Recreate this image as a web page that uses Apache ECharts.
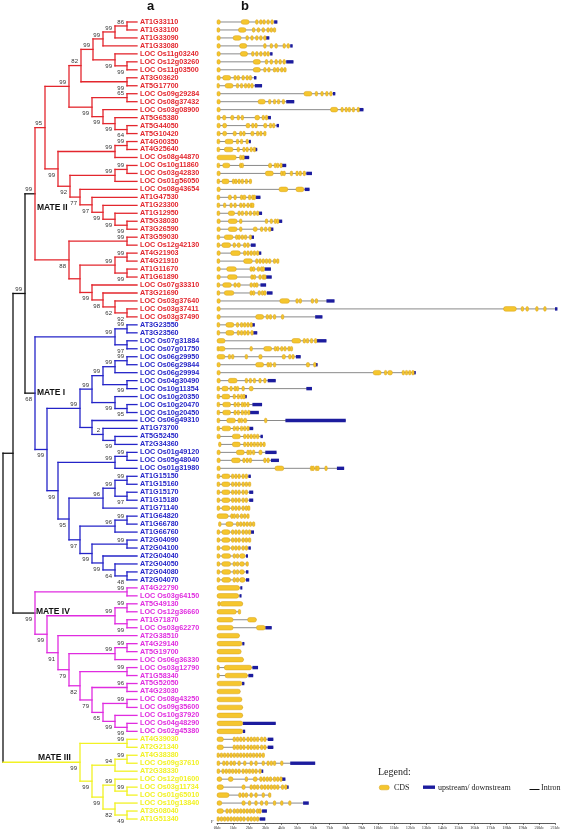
<!DOCTYPE html>
<html><head><meta charset="utf-8">
<script src="https://cdn.jsdelivr.net/npm/echarts@6/dist/echarts.min.js"></script>
<style>html,body{margin:0;padding:0;background:#fff}#c{width:567px;height:834px}</style>
</head><body><div id="c"></div>
<script>
// ---------------- DATA ----------------
const leafNames = [
'AT1G33110','AT1G33100','AT1G33090','AT1G33080','LOC Os11g03240','LOC Os12g03260','LOC Os11g03500','AT3G03620','AT5G17700','LOC Os09g29284',
'LOC Os08g37432','LOC Os03g08900','AT5G65380','AT5G44050','AT5G10420','AT4G00350','AT4G25640','LOC Os08g44870','LOC Os10g11860','LOC Os03g42830',
'LOC Os01g56050','LOC Os08g43654','AT1G47530','AT1G23300','AT1G12950','AT5G38030','AT3G26590','AT3G59030','LOC Os12g42130','AT4G21903',
'AT4G21910','AT1G11670','AT1G61890','LOC Os07g33310','AT3G21690','LOC Os03g37640','LOC Os03g37411','LOC Os03g37490',
'AT3G23550','AT3G23560','LOC Os07g31884','LOC Os07g01750','LOC Os06g29950','LOC Os06g29844','LOC Os06g29994','LOC Os04g30490','LOC Os10g11354','LOC Os10g20350',
'LOC Os10g20470','LOC Os10g20450','LOC Os06g49310','AT1G73700','AT5G52450','AT2G34360','LOC Os01g49120','LOC Os05g48040','LOC Os01g31980','AT1G15150',
'AT1G15160','AT1G15170','AT1G15180','AT1G71140','AT1G64820','AT1G66780','AT1G66760','AT2G04090','AT2G04100','AT2G04040','AT2G04050','AT2G04080','AT2G04070',
'AT4G22790','LOC Os03g64150','AT5G49130','LOC Os12g36660','AT1G71870','LOC Os03g62270','AT2G38510','AT4G29140','AT5G19700','LOC Os06g36330',
'LOC Os03g12790','AT1G58340','AT5G52050','AT4G23030','LOC Os08g43250','LOC Os09g35600','LOC Os10g37920','LOC Os04g48290','LOC Os02g45380',
'AT4G39030','AT2G21340','AT4G38380','LOC Os09g37610','AT2G38330','LOC Os12g01600','LOC Os03g11734','LOC Os01g65010','LOC Os10g13840','AT3G08040','AT1G51340'
];
const cladeNames = ['MATE II','MATE I','MATE IV','MATE III'];
const cladeLeafCounts = [38, 33, 19, 11];
const cladeColors = ['#e3262d','#2424c8','#e02ce0','#f2f224'];

// Tree (Newick-like): label [v = below][! = clade root] @ node depth
const subA  = '((((AT1G33110,AT1G33100)86@127,AT1G33090)99@115,AT1G33080)99@103,(LOC Os11g03240,(LOC Os12g03260,LOC Os11g03500)99v@127)99v@115)99@93';
const subE0 = `(${subA},(AT3G03620,AT5G17700)99v@127)82@81`;
const subF2 = '((LOC Os09g29284,LOC Os08g37432)65@127,(LOC Os03g08900,(AT5G65380,(AT5G44050,AT5G10420)64v@127)99v@115)99v@103)99v@92';
const subH  = `(${subE0},${subF2})99@69`;
const subQ2 = '((AT4G00350,AT4G25640)99@127,LOC Os08g44870)99@115';
const subN6 = '((LOC Os10g11860,LOC Os03g42830)99@127,LOC Os01g56050)99@115';
const subN5 = '(LOC Os08g43654,(AT1G47530,(AT1G23300,(AT1G12950,(AT5G38030,AT3G26590)99v@127)99v@115)99v@103)97v@92)77v@80';
const subN8 = `(${subQ2},(${subN6},${subN5})92v@70)99v@58`;
const subT95 = `(${subH},${subN8})95@45`;
const subS1 = '(AT3G59030,LOC Os12g42130)99@127';
const subS2 = '(((AT4G21903,AT4G21910)99@127,(AT1G11670,AT1G61890)99v@127)99@115,(LOC Os07g33310,(AT3G21690,(LOC Os03g37640,(LOC Os03g37411,LOC Os03g37490)92v@127)62v@115)98v@103)99v@92)@80';
const treeMateII = `(${subT95},(${subS1},${subS2})88v@69)99!@35`;

const subK1 = '((AT3G23550,AT3G23560)99@127,(LOC Os07g31884,LOC Os07g01750)97v@127)99@115';
const subJ  = '((((LOC Os06g29950,LOC Os06g29844)99@127,LOC Os06g29994)99@115,(LOC Os04g30490,LOC Os10g11354)99v@127)99@103,(LOC Os10g20350,(LOC Os10g20470,LOC Os10g20450)95v@127)99v@115)99@92';
const subK7 = '(LOC Os06g49310,(AT1G73700,(AT5G52450,AT2G34360)99v@115)2@103)@92';
const subK4a = '((LOC Os01g49120,LOC Os05g48040)99@127,LOC Os01g31980)99@115';
const subL1 = '(((AT1G15150,AT1G15160)99@127,(AT1G15170,AT1G15180)97v@127)99@115,AT1G71140)96@103';
const subL2 = '(((AT1G64820,AT1G66780)99@127,AT1G66760)96@115,((AT2G04090,AT2G04100)99@127,(AT2G04040,(AT2G04050,(AT2G04080,AT2G04070)48v@127)64v@115)99v@103)99v@92)97v@80';
const treeMateI = `(${subK1},((${subJ},${subK7})99@80,(${subK4a},(${subL1},${subL2})95v@69)99v@58)99v@47)68v!@35`;

const subP4a = '(AT4G22790,LOC Os03g64150)99@127';
const subP4b = '((AT5G49130,LOC Os12g36660)99@127,(AT1G71870,LOC Os03g62270)99v@127)99@115';
const subP4c = '((AT4G29140,AT5G19700)99@127,LOC Os06g36330)99@115';
const subP4d = '((LOC Os08g43250,LOC Os09g35600)99@127,(LOC Os10g37920,(LOC Os04g48290,LOC Os02g45380)99v@127)99v@115)65v@103';
const subP4e = `((LOC Os03g12790,AT1G58340)99@127,((AT5G52050,AT4G23030)96@127,${subP4d})79v@92)82v@80`;
const treeMateIV = `(${subP4a},(${subP4b},(AT2G38510,(${subP4c},${subP4e})79v@69)91v@58)99v@47)99v!@35`;

const treeMateIII = '((AT4G39030,AT2G21340)99@127,(((AT4G38380,LOC Os09g37610)99@127,AT2G38330)94@115,((LOC Os12g01600,(LOC Os03g11734,LOC Os01g65010)99@127)99@115,(LOC Os10g13840,(AT3G08040,AT1G51340)49v@127)82v@115)99v@103)99v@92)99v@80';
const treeAll = `(((${treeMateII},${treeMateI})99@25,${treeMateIV})@13,${treeMateIII})@3`;
const tipDepth = 137;

// Gene models in kb: "a-b" CDS, single number = short CDS, "ua-b" UTR
const geneModels = [
'0-.2 1.5-2 2.4 2.65 2.85 3.1 3.35 u3.55-3.75','0-.17 1.33-1.8 2.2 2.5 2.8 3.1 3.3 3.5','0-.2 1-1.5 1.8 2.1 2.4 2.65 2.9 u3.05-3.25',
'0-.2 1.4-1.85 2.9 3.3 3.6-3.75 4.1 4.35 u4.55-4.7','0-.2 1.45-1.9 2.15 2.4 2.65 2.9 3.1 u3.3-3.45','0-.2 2.25-2.7 3 3.3 3.6 3.85 4.1 u4.3-4.75',
'0-.2 2.25-2.7 2.9 3.15 3.5 3.7 3.95 4.15','0-.2 .35-.85 1.05 1.25 1.55 1.8 2 u2.3-2.45','0-.15 .5-1 1.2 1.45 1.7 1.9 2.1 u2.35-2.8',
'0-.2 5.4-5.9 6.1 6.45 6.75 7 u7.2-7.35','0-.2 2.55-3 3.2 3.5 3.75 4.05 u4.3-4.8','0-.2 7.05-7.5 7.7 7.95 8.15 8.4 8.7 u8.8-9.1',
'0-.2 .35-.55 .85-1.05 1.25 1.5 2.35-2.65 2.8 3 u3.15-3.35','0-.2 .35-.6 1.8-2.05 2.15 2.35 2.9-3.1 3.25 3.45 u3.7-3.85','0-.2 .35-.6 1-1.2 1.4 1.6 2.1-2.3 2.45 2.65 2.9',
'0-.17 .5-1 1.2 1.45-1.6 1.8 u1.98-2.1','0-.17 .45-1 1.25-1.4 1.6 1.8 2.05 2.25 u2.35-2.5','0-1.2 1.4 1.55 u1.65-2',
'0-.17 .35-.8 1.4 1.5 3.2-3.4 3.55 3.7 3.9 u4-4.3','0-.2 3-3.5 3.95 4.1 4.55 4.9 5.1 5.35 u5.55-5.9','0-.17 .3-.75 .95 1.1 1.3 1.5 1.75 2',
'0-.2 3.85-4.4 4.9-5.4 u5.45-5.75','0-.17 .7-.9 1.05-1.2 1.45 1.6-1.8 1.95 2.15 2.25 u2.4-2.7','0-.17 .4-.55 .8-.95 1.05-1.2 1.4 1.6 1.85 2.05 2.15',
'0-.17 .7-1.1 1.3 1.5 1.75 2 2.25 2.45 u2.6-2.8','0-.2 .7-1.25 1.4 3-3.15 3.3 3.55 3.7 u3.85-4.05','0-.2 .7-1.25 1.4 2.25-2.5 2.7 2.95 3.2 u3.3-3.5',
'0-.17 .45-1 1.15 1.3 1.5 1.7 2 u2.05-2.3','0-.17 .3-.85 1 1.25-1.45 1.65 1.85 u2.1-2.4','0-.2 .85-1.45 1.65 1.85 2.05 2.25 2.45 u2.6-2.75',
'0-.17 1.65-2.2 2.4 2.6 2.8 3 3.2 3.5 3.7','0-.2 .6-1.2 2.05 2.2-2.35 2.5 2.7 2.8-2.9 u2.95-3.35','0-.2 .65-1.25 2.1 2.25-2.4 2.6 2.8 2.9 u3.05-3.4',
'0-.17 .35-.9 1.05 1.25-1.45 2.05 2.25 2.4 u2.7-3.05','0-.17 .45-1.05 2.05 2.2-2.35 2.55 2.75 2.9 u3.1-3.45','0-.2 3.9-4.5 4.9 5.1-5.25 5.85 6.1 u6.8-7.3',
'0-.2 17.8-18.6 18.9 19.2 19.8 20.3 u21-21.15','0-.2 2.4-2.9 3.05 3.25-3.4 3.5 4 u6.1-6.55',
'0-.17 .55-1.05 1.2 1.45 1.65 1.85 2.05 u2.15-2.35','0-.17 .55-1.05 1.25 1.45 1.65 1.85 2.1 u2.25-2.5','0-.5 4.65-5.2 5.35 5.55 5.8 6.05 u6.2-6.8',
'0-.05 .1-.5 2.05 2.9-3.4 3.55 3.7 3.95 4.15 4.4 4.55','0-.5 .7 .9 1.75 2.6-2.8 4.05-4.25 4.45 4.65 u4.9-5.2','0-.2 2.4-2.9 3.1 3.25 3.5 5.55-5.75 6 u6.1-6.25',
'0-.2 9.7-10.2 10.4 10.6-10.9 11.5 11.7 11.9 12.1 u12.2-12.35','0-.2 .7-1.25 1.75 2 2.25 2.6 2.9 u3.15-3.65','0-.17 .3-.7 .8 1.05 1.2-1.35 1.55 2-2.25 u5.55-5.9',
'0-.17 .3-.8 1 1.25 1.45 1.6 u1.65-1.85','0-.17 .35-.85 1.05 1.25 1.5 1.65 1.85 u2.2-2.8','0-.17 .35-.85 1.05 1.25 1.5 1.7 1.9 u2.05-2.6',
'0-.17 .6-1.15 1.3 1.45 1.65-1.85 2.95-3.1 u4.25-8','0-.17 .3-.85 1 1.2 1.45 1.65 1.85 u2-2.25','0-.2 .95-1.45 1.65 1.85 2.05 2.25 2.45 u2.7-2.85',
'.1-.25 .95-1.45 1.65 1.85 2.05 2.25 2.45 2.65 2.85','0-.2 1.2-1.7 1.85 2 2.2 2.6-2.8 u3-3.7','0-.2 .9-1.45 1.6 1.8 2 2.9 3.1-3.25 u3.35-3.85',
'0-.2 3.6-4.15 5.8 5.9 6.1 6.2 6.7-6.8 u7.45-7.9','0-.17 .3-.8 .9 1.1 1.3 1.55 1.75 u1.95-2.1','0-.17 .3-.8 .9 1.1 1.3 1.55 1.75 1.95',
'0-.17 .3-.8 .9 1.1 1.3 1.55 1.75 u2-2.25','0-.17 .3-.8 .9 1.1 1.3 1.55 1.75 u2-2.25','0-.17 .3-.8 .9 1.1 1.3 1.55 1.75 1.9',
'0-.7 .85 1 1.2 1.45 1.65 1.85','.1-.25 .55-1 1.2 1.4 1.6 1.8 2 2.2','0-.17 .3-.8 .9 1.1 1.3 1.55 1.75 1.95 u2.1-2.3',
'0-.17 .3-.8 .9 1.1 1.3 1.55 1.75 1.95','0-.17 .3-.8 .9 1.1 1.3 1.55 1.75 u1.95-2.1','0-.17 .3-.85 1 1.2 1.4-1.75 u1.8-1.9',
'0-.17 .3-.85 1 1.2 1.4-1.7 1.8','0-.17 .3-.85 1 1.2 1.4-1.7 u1.8-1.95','0-.17 .3-.85 1 1.2 1.4-1.75 u1.8-2',
'0-1.4 u1.45-1.55','0-1.35 u1.4-1.5','.05-.12 .2-1.6','0-1.2 1.32-1.4','0-1 1.9-2.45','0-1 2.45-3 u3-3.4','0-1.4','0-1.55 u1.57-1.7','0-1.5','0-1.65',
'0-.08 .45-2.15 u2.2-2.55','0-.08 .5-1.9 u1.95-2.25','0-1.55 u1.55-1.7','0-1.45','0-1.55','0-1.6','0-1.6','0-1.6 u1.6-3.65','0-1.6 u1.6-1.75',
'0-.4 1 1.2 1.4 1.6 1.85 2.05 2.25 2.45 2.7 2.9 u3.15-3.5','0-.4 1 1.2 1.4 1.6 1.85 2.05 2.25 2.45 2.7 2.9 u3.15-3.5',
'0 .2 .4 .6 .8 1 1.2 1.4 1.6 1.8 2 2.2 2.4 2.6 2.8','0-.17 .35 .55 .8 1 1.3 1.65 2.05 2.35 2.8 3.1 3.3 3.5 3.95 u4.55-6.1',
'0-.17 .3 .5 .7 .9 1.1 1.3 1.55 1.75 1.95 2.15 2.35 2.6 u2.75-2.85','0-.3 .7-1 1.75 2.25-2.5 2.65 2.85 3.05 3.25 3.5 3.7 3.9 u3.95-4.25',
'0-.4 1.55-1.75 2.05 2.25 2.45 2.7 2.9 3.1 3.3 3.5 3.7 4 4.2 u4.25-4.45','0-.75 1.35 1.55 1.75 2.05 2.35 2.8 3.2',
'0-.3 1.55-1.75 1.95 2.35 2.7 3 3.5 3.95 4.45 u5.35-5.7','0-.4 .55 .75 1 1.2 1.4 1.6 1.8 2 2.2 2.45 2.6 u2.8-3.1',
'0 .2 .4 .6 .8 1 1.2 1.4 1.6 1.85 2.05 2.25 2.45 u2.65-3'
];
const kbTicks = {min: 0, max: 21, interval: 1};
const legendItems = ['CDS', 'upstream/ downstream', 'Intron'];

// ---------------- BUILD ----------------
const leafClade = [];
cladeLeafCounts.forEach((n, c) => { for (let k = 0; k < n; k++) leafClade.push(c); });

function parseTree(s) {
  let i = 0;
  function node() {
    if (s[i] === '(') {
      i++;
      const children = [node()];
      while (s[i] === ',') { i++; children.push(node()); }
      i++;
      let lab = '';
      while (i < s.length && s[i] !== ',' && s[i] !== ')') lab += s[i++];
      const m = lab.match(/^(\d*)(v?)(!?)@([\d.]+)$/);
      return {children, boot: m[1], below: m[2] === 'v', cladeRoot: m[3] === '!', depth: +m[4]};
    }
    let name = '';
    while (i < s.length && s[i] !== ',' && s[i] !== ')') name += s[i++];
    return {name};
  }
  return node();
}
const root = parseTree(treeAll);
const BLACK = '#111111';
const segData = [], segColor = [], bootData = [], bootText = [];
function layout(n) {
  if (!n.children) {
    n.y = leafNames.indexOf(n.name); n.x = tipDepth;
    n.color = cladeColors[leafClade[n.y]];
    return;
  }
  n.children.forEach(layout);
  n.x = n.depth;
  const ys = n.children.map(c => c.y);
  n.y = (Math.min(...ys) + Math.max(...ys)) / 2;
  const cols = new Set(n.children.map(c => c.color));
  n.color = cols.size === 1 ? [...cols][0] : BLACK;
}
layout(root);
function collect(n) {
  if (!n.children) return;
  const ys = n.children.map(c => c.y);
  segData.push([n.x, Math.min(...ys), n.x, Math.max(...ys)]); segColor.push(n.color);
  n.children.forEach(c => {
    segData.push([n.x, c.y, c.x, c.y]);
    segColor.push(c.cladeRoot ? BLACK : c.color);
    collect(c);
  });
  if (n.boot) { bootData.push([n.x, n.y, n.below ? 1 : 0]); bootText.push(n.boot); }
}
collect(root);

const geneSegs = [];
const intronSegs = [];
geneModels.forEach((g, row) => {
  let lo = Infinity, hi = -Infinity;
  g.split(' ').forEach(tok => {
    let type = 1;
    if (tok[0] === 'u') { type = 2; tok = tok.slice(1); }
    let a, b;
    if (tok.includes('-')) { [a, b] = tok.split('-').map(Number); } else { a = +tok; b = a + 0.14; }
    lo = Math.min(lo, a); hi = Math.max(hi, b);
    geneSegs.push([type, row, a, b]);
  });
  intronSegs.push([0, row, lo, hi]);
});
const allGeneSegs = intronSegs.concat(geneSegs.filter(s => s[0] === 2), geneSegs.filter(s => s[0] === 1));

// ---------------- CHART ----------------
const chart = echarts.init(document.getElementById('c'), null, {renderer: 'canvas'});
const rowAxis = (g) => ({type: 'value', gridIndex: g, min: -0.5, max: leafNames.length - 0.5, inverse: true, show: false});
const option = {
  animation: false,
  backgroundColor: '#ffffff',
  grid: [
    {left: 0, top: 18, width: tipDepth, height: 805},
    {left: 217, top: 18, width: 338, height: 805}
  ],
  xAxis: [
    {type: 'value', gridIndex: 0, min: 0, max: tipDepth, show: false},
    {type: 'value', gridIndex: 1, min: kbTicks.min, max: kbTicks.max, interval: kbTicks.interval, position: 'bottom',
     axisLine: {show: true, onZero: false, lineStyle: {color: '#333', width: 0.8}},
     axisTick: {show: true, length: 2, lineStyle: {color: '#333', width: 0.6}},
     minorTick: {show: true, splitNumber: 4, length: 1, lineStyle: {color: '#555', width: 0.5}},
     splitLine: {show: false},
     axisLabel: {formatter: '{value}kb', fontSize: 4.5, fontFamily: 'Liberation Serif', color: '#333', margin: 2}}
  ],
  yAxis: [rowAxis(0), rowAxis(1)],
  series: [
    {type: 'custom', xAxisIndex: 0, yAxisIndex: 0, clip: false, data: segData,
     encode: {x: [0, 2], y: [1, 3]},
     renderItem: (p, api) => {
       const a = api.coord([api.value(0), api.value(1)]);
       const b = api.coord([api.value(2), api.value(3)]);
       return {type: 'line', shape: {x1: a[0], y1: a[1], x2: b[0], y2: b[1]},
         style: {stroke: segColor[p.dataIndex], lineWidth: 1.3, lineCap: 'square'}};
     }},
    {type: 'custom', xAxisIndex: 0, yAxisIndex: 0, clip: false, data: bootData,
     encode: {x: 0, y: 1}, z: 3,
     renderItem: (p, api) => {
       const a = api.coord([api.value(0), api.value(1)]);
       const below = api.value(2) === 1;
       return {type: 'text', x: a[0] - 3, y: below ? a[1] + 3.2 : a[1] - 1,
         style: {text: bootText[p.dataIndex], fill: '#333', fontSize: 6, fontFamily: 'Liberation Sans',
           align: 'right', verticalAlign: below ? 'top' : 'bottom'}};
     }},
    {type: 'custom', xAxisIndex: 0, yAxisIndex: 0, clip: false,
     data: leafNames.map((n, i) => [tipDepth, i]), encode: {x: 0, y: 1},
     renderItem: (p, api) => {
       const a = api.coord([api.value(0), api.value(1)]);
       return {type: 'text', x: a[0] + 3, y: a[1],
         style: {text: leafNames[p.dataIndex], fill: cladeColors[leafClade[p.dataIndex]], fontSize: 7.2,
           fontWeight: 'bold', fontFamily: 'Liberation Sans', align: 'left', verticalAlign: 'middle'}};
     }},
    {type: 'custom', xAxisIndex: 1, yAxisIndex: 1, clip: false, data: allGeneSegs,
     encode: {x: [2, 3], y: 1},
     renderItem: (p, api) => {
       const t = api.value(0);
       const p1 = api.coord([api.value(2), api.value(1)]);
       const p2 = api.coord([api.value(3), api.value(1)]);
       if (t === 0) return {type: 'line', shape: {x1: p1[0], y1: p1[1], x2: p2[0], y2: p2[1]},
         style: {stroke: '#8a8a8a', lineWidth: 1}};
       const w = Math.max(p2[0] - p1[0], t === 1 ? 2.4 : 2);
       const h = t === 1 ? 4.6 : 3.4;
       return {type: 'rect', shape: {x: p1[0], y: p1[1] - h / 2, width: w, height: h, r: t === 1 ? Math.min(2.2, w / 2) : 0},
         style: t === 1 ? {fill: '#f5c62e', stroke: '#d9a21b', lineWidth: 0.5} : {fill: '#1c1c9e'}};
     }}
  ],
  graphic: [
    {type: 'text', left: 147, top: 0, style: {text: 'a', fontSize: 13, fontWeight: 'bold', fontFamily: 'Liberation Sans', fill: '#111'}},
    {type: 'text', left: 241, top: 0, style: {text: 'b', fontSize: 13, fontWeight: 'bold', fontFamily: 'Liberation Sans', fill: '#111'}},
    {type: 'text', left: 37, top: 203, style: {text: cladeNames[0], fontSize: 8.5, fontWeight: 'bold', fontFamily: 'Liberation Sans', fill: '#111'}},
    {type: 'text', left: 37, top: 388, style: {text: cladeNames[1], fontSize: 8.5, fontWeight: 'bold', fontFamily: 'Liberation Sans', fill: '#111'}},
    {type: 'text', left: 36, top: 607, style: {text: cladeNames[2], fontSize: 8.5, fontWeight: 'bold', fontFamily: 'Liberation Sans', fill: '#111'}},
    {type: 'text', left: 38, top: 753, style: {text: cladeNames[3], fontSize: 8.5, fontWeight: 'bold', fontFamily: 'Liberation Sans', fill: '#111'}},
    {type: 'text', left: 378, top: 767, style: {text: 'Legend:', fontSize: 10, fontFamily: 'Liberation Serif', fill: '#222'}},
    {type: 'rect', left: 379, top: 785, shape: {width: 10, height: 4.6, r: 2.2}, style: {fill: '#f5c62e', stroke: '#d9a21b', lineWidth: 0.5}},
    {type: 'text', left: 394, top: 783.5, style: {text: legendItems[0], fontSize: 8, fontFamily: 'Liberation Serif', fill: '#222'}},
    {type: 'rect', left: 423, top: 785.5, shape: {width: 12, height: 3.4}, style: {fill: '#1c1c9e'}},
    {type: 'text', left: 438, top: 783.5, style: {text: legendItems[1], fontSize: 8, fontFamily: 'Liberation Serif', fill: '#222'}},
    {type: 'line', left: 527, top: 787, shape: {x1: 0, y1: 0, x2: 10, y2: 0}, style: {stroke: '#111', lineWidth: 1}},
    {type: 'text', left: 541, top: 783.5, style: {text: legendItems[2], fontSize: 8, fontFamily: 'Liberation Serif', fill: '#222'}},
    {type: 'text', left: 211, top: 819, style: {text: 'F', fontSize: 4.5, fontFamily: 'Liberation Serif', fill: '#333'}}
  ]
};
chart.setOption(option);
</script>
</body></html>
